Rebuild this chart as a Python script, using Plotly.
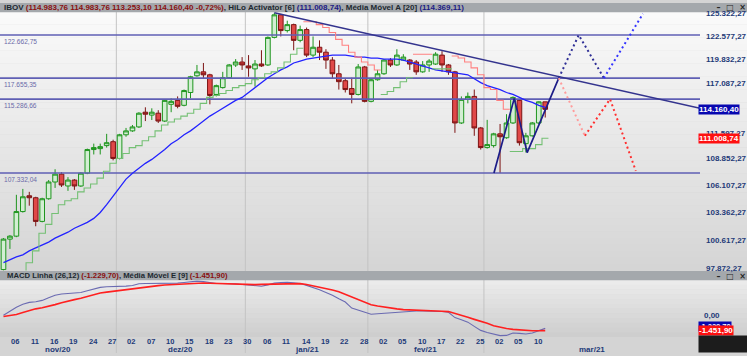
import math
import plotly.graph_objects as go

# ---------------- data ----------------
dates = [
    "2020-11-05", "2020-11-06", "2020-11-09", "2020-11-10", "2020-11-11", "2020-11-12", "2020-11-13",
    "2020-11-16", "2020-11-17", "2020-11-18", "2020-11-19", "2020-11-20", "2020-11-23", "2020-11-24",
    "2020-11-25", "2020-11-26", "2020-11-27", "2020-11-30",
    "2020-12-01", "2020-12-02", "2020-12-03", "2020-12-04", "2020-12-07", "2020-12-08", "2020-12-09",
    "2020-12-10", "2020-12-11", "2020-12-14", "2020-12-15", "2020-12-16", "2020-12-17", "2020-12-18",
    "2020-12-21", "2020-12-22", "2020-12-23", "2020-12-28", "2020-12-29", "2020-12-30",
    "2021-01-04", "2021-01-05", "2021-01-06", "2021-01-07", "2021-01-08", "2021-01-11", "2021-01-12",
    "2021-01-13", "2021-01-14", "2021-01-15", "2021-01-18", "2021-01-19", "2021-01-20", "2021-01-21",
    "2021-01-22", "2021-01-26", "2021-01-27", "2021-01-28", "2021-01-29",
    "2021-02-01", "2021-02-02", "2021-02-03", "2021-02-04", "2021-02-05", "2021-02-08", "2021-02-09",
    "2021-02-10", "2021-02-11", "2021-02-12", "2021-02-17", "2021-02-18", "2021-02-19", "2021-02-22",
    "2021-02-23", "2021-02-24", "2021-02-25", "2021-02-26",
    "2021-03-01", "2021-03-02", "2021-03-03", "2021-03-04", "2021-03-05", "2021-03-08", "2021-03-09",
    "2021-03-10", "2021-03-11", "2021-03-12",
]

open_ = [
    97770, 100690, 100980, 103410, 105000, 104800, 102430, 104700, 106410, 107220,
    106000, 106610, 106000, 107320, 109800, 109900, 110220, 110640, 108860, 111380,
    111800, 112230, 113840, 113520, 113730, 112870, 114710, 115150, 114600, 116030,
    117920, 118370, 118030, 115810, 116580, 117700, 119160, 119500, 119050, 118710,
    119270, 119160, 122380, 125080, 123190, 123900, 122030, 123310, 120300, 121220,
    120640, 119730, 118150, 117360, 116470, 115810, 118930, 115040, 117470, 118150,
    119730, 119160, 119730, 119730, 119500, 118370, 119160, 119270, 120300, 119160,
    118370, 112660, 115260, 115590, 112120, 110010, 110220, 111480, 111060, 112660,
    115150, 110430, 111270, 112660, 114983.76,
]
high = [
    100790, 101080, 105100, 105700, 105400, 104900, 104800, 106610, 107730, 107420,
    106910, 106710, 107420, 109900, 110430, 110430, 111480, 110850, 111480, 112120,
    112440, 113840, 114380, 114270, 114060, 115260, 115370, 115590, 116360, 117920,
    119160, 119390, 118150, 116920, 118370, 119270, 119840, 120070, 120300, 119730,
    120870, 122490, 125323, 125200, 124370, 124020, 123780, 123550, 122490, 122030,
    120990, 120070, 119160, 117580, 117700, 119270, 119050, 117580, 118590, 119840,
    119960, 120990, 120410, 119840, 119730, 119610, 119840, 120640, 120760, 119270,
    118480, 115590, 116030, 116360, 112230, 113000, 111590, 112550, 113620, 115590,
    115260, 111590, 112760, 115040, 114983.76,
]
low = [
    97670, 99740, 100880, 103310, 104000, 101950, 102340, 104600, 105800, 105900,
    105500, 105600, 105900, 107220, 109280, 109280, 110010, 108660, 108760, 111170,
    111700, 112120, 112870, 112980, 112660, 112760, 113840, 114270, 114490, 115370,
    117810, 117580, 114710, 115590, 116470, 117580, 118930, 118590, 117810, 116690,
    118930, 119050, 122260, 122490, 122960, 120870, 121800, 120070, 120070, 119730,
    118710, 117580, 116360, 116030, 114820, 115700, 114930, 114930, 117360, 118030,
    118930, 119050, 119610, 118590, 118030, 118260, 118370, 119160, 118370, 118030,
    111590, 112550, 114820, 111270, 109800, 109900, 110010, 107332.04, 110950, 112550,
    110220, 109490, 111170, 112550, 113253.10,
]
close = [
    100690, 100980, 103410, 104900, 104800, 102430, 104700, 106410, 107220, 106100,
    106610, 106000, 107320, 109800, 110010, 110110, 110530, 108860, 111380, 111800,
    112230, 113730, 113620, 113840, 112870, 115150, 115040, 114490, 116250, 117810,
    118370, 118030, 115700, 116800, 117700, 119160, 119500, 119160, 118820, 119270,
    119050, 122380, 125080, 123190, 123900, 122030, 123310, 120300, 121220, 120640,
    119730, 118150, 117250, 116360, 115810, 118930, 115040, 117470, 118150, 119730,
    119160, 120300, 120070, 119270, 118370, 119160, 119610, 120410, 119160, 118370,
    112660, 115260, 115590, 112120, 110010, 110330, 111480, 111170, 112660, 115480,
    110530, 111270, 112660, 114983.76, 114160.40,
]

ma20 = [
    98421, 98701, 98984, 99173, 99550, 99834, 100120, 100403, 100788, 101077,
    101366, 101752, 102044, 102335, 102725, 103314, 104103, 104998, 105901, 106709,
    107320, 107832, 108346, 108759, 109278, 109799, 110428, 110849, 111377, 111801,
    112335, 112870, 113410, 113841, 114276, 114711, 115148, 115478, 116028, 116582,
    117137, 117696, 118145, 118595, 118935, 119387, 119614, 119843, 119957, 120071,
    120186, 120300, 120300, 120300, 120186, 120071, 120071, 119957, 119957, 119843,
    119843, 119843, 119729, 119500, 119274, 119048, 118821, 118595, 118482, 118369,
    118257, 118145, 118033, 117584, 117137, 116804, 116582, 116360, 116028, 115808,
    115478, 115148, 114929, 114602, 114369.11,
]

hilo = [
    None, None, None, 97200, 98420, 99550, 101270, 102140, 103220, 104100,
    104500, 104700, 105400, 105800, 106200, 106810, 107520, 108350, 108860, 109380,
    110010, 110220, 110740, 111170, 111800, 112440, 112760, 113090, 113410, 113730,
    114170, 114820, 115480, 115700, 115920, 116250, 116580, 116800, 117030, 117470,
    117700, 118150, 118370, 118820, 119500, 120410, 121100, 124250, 124250, 123900,
    123550, 122960, 122150, 121450, 120640, 120070, 119500, 119160, 118590, 115810,
    116140, 116580, 117250, 117700, 120410, 120410, 120410, 118710, 118710, 118710,
    120190, 119960, 119500, 118820, 118030, 116580, 116360, 115150, 114170, 109590,
    109590, 109900, 109900, 110320, 111008.74,
]
# G = HiLo below price (buy, green), R = HiLo above price (sell, red)
hilo_side = "G" * 47 + "R" * 12 + "G" * 5 + "R" * 3 + "G" * 3 + "R" * 9 + "G" * 6

macd_line = [
    29, 447, 808, 1093, 1283, 1349, 1473, 1729, 1967, 2090,
    2157, 2195, 2233, 2404, 2565, 2727, 2793, 2812, 2784, 2850,
    2917, 3078, 3107, 3107, 3097, 3078, 3097, 3145, 3202, 3278,
    3335, 3287, 3183, 3107, 3107, 3107, 3069, 3012, 2955, 2898,
    2841, 2974, 3145, 3192, 3221, 3164, 3097, 2926, 2727, 2508,
    2242, 1976, 1625, 1311, 732, 523, 285, 133, 190, 238,
    285, 342, 390, 447, 447, 447, 447, 428, 399, 323,
    -190, -399, -627, -1036, -1425, -1625, -1796, -1929, -1910, -1672,
    -1710, -1777, -1682, -1463, -1229.70,
]
macd_signal = [
    -76, 19, 114, 295, 494, 656, 770, 893, 1064, 1245,
    1416, 1549, 1672, 1834, 2014, 2185, 2271, 2356, 2432, 2508,
    2584, 2679, 2765, 2841, 2898, 2955, 2993, 3021, 3050, 3097,
    3145, 3154, 3135, 3107, 3097, 3078, 3059, 3021, 2983, 2993,
    3021, 3040, 3069, 3097, 3107, 3107, 3097, 3002, 2888, 2774,
    2641, 2480, 2299, 2062, 1815, 1568, 1321, 1055, 931, 817,
    722, 656, 580, 542, 513, 494, 475, 447, 418, 390,
    228, 19, -162, -361, -532, -741, -969, -1131, -1245, -1330,
    -1387, -1444, -1454, -1454, -1451.90,
]

levels = [122662.75, 117655.35, 115286.66, 107332.04]
price_ticks = [125322.27, 122577.27, 119832.27, 117087.27, 111597.27,
               108852.27, 106107.27, 103362.27, 100617.27, 97872.27]
month_names = ["nov/20", "dez/20", "jan/21", "fev/21", "mar/21"]

# drawn studies (positions in trading-day units, price levels)
trend_x = [42.0, 108.0]
trend_y = [125323.0, 114276.0]
wave_x = [76.05, 79.2, 81.2, 86.1]
wave_y = [107332.04, 115370.0, 109480.0, 117655.35]
proj_up_x = [86.1, 89.2, 93.1, 99.15]
proj_up_y = [117655.35, 122662.75, 117655.35, 125200.0]
proj_dn_x = [86.1, 90.15, 94.05, 98.05]
proj_dn_y = [117655.35, 111270.0, 115286.66, 107560.0]

# ---------------- helpers ----------------
W, H = 747, 356
FONT = "Liberation Sans"
NAVY_TXT = "#1e3a78"


def br(v, nd=2):
    s = f"{v:,.{nd}f}"
    return s.replace(",", "X").replace(".", ",").replace("X", ".")


def py(px):
    return (H - px) / H


def pxx(px):
    return px / W


xs = list(range(len(dates)))
X_MIN, X_MAX = -0.54, 108.0
PLOT_R = 700 / W

K = 0.0009508 / math.log(10)
y_top = math.log10(125322.27) + (10 - 9) * K
y_bot = math.log10(125322.27) - (272 - 10) * K


def step_xy(side):
    sx, sy = [], []
    for i, v in enumerate(hilo):
        if v is None or hilo_side[i] != side:
            continue
        sx.append(i - 0.5)
        sy.append(v)
        nxt = i + 1 < len(hilo) and hilo[i + 1] is not None and hilo_side[i + 1] == side
        if not nxt:
            sx += [i + 0.5, None]
            sy += [v, None]
    return sx, sy


fig = go.Figure()

# horizontal levels
for lv in levels:
    fig.add_trace(go.Scatter(x=[X_MIN, X_MAX], y=[lv, lv], mode="lines",
                             line=dict(color="#5f5fb4", width=1.6), hoverinfo="skip"))

# moving average
fig.add_trace(go.Scatter(x=xs, y=ma20, mode="lines", line=dict(color="#2323ff", width=1.3)))

# HiLo activator
gx, gy = step_xy("G")
rx, ry = step_xy("R")
fig.add_trace(go.Scatter(x=gx, y=gy, mode="lines", line=dict(color="#74c074", width=1.1, shape="hv")))
fig.add_trace(go.Scatter(x=rx, y=ry, mode="lines", line=dict(color="#ff8080", width=1.1, shape="hv")))

# candles
fig.add_trace(go.Candlestick(
    x=xs, open=open_, high=high, low=low, close=close,
    increasing=dict(line=dict(color="#1e951e", width=1), fillcolor="#d3eed3"),
    decreasing=dict(line=dict(color="#7d1414", width=1), fillcolor="#e04848"),
    whiskerwidth=0,
))

# trend line, wave and projections
fig.add_trace(go.Scatter(x=trend_x, y=trend_y, mode="lines", line=dict(color="#34348e", width=1.5)))
fig.add_trace(go.Scatter(x=wave_x, y=wave_y, mode="lines", line=dict(color="#1d1d88", width=1.7)))
fig.add_trace(go.Scatter(x=proj_up_x[:3], y=proj_up_y[:3], mode="lines",
                         line=dict(color="#2e2e96", width=2, dash="2px,3px")))
fig.add_trace(go.Scatter(x=proj_up_x[2:], y=proj_up_y[2:], mode="lines",
                         line=dict(color="#3434ff", width=2, dash="2px,3px")))
fig.add_trace(go.Scatter(x=proj_dn_x[:2], y=proj_dn_y[:2], mode="lines",
                         line=dict(color="#ff9c9c", width=2, dash="2px,3px")))
fig.add_trace(go.Scatter(x=proj_dn_x[1:], y=proj_dn_y[1:], mode="lines",
                         line=dict(color="#ff3030", width=2, dash="2px,3px")))

# MACD panel
fig.add_trace(go.Scatter(x=xs, y=macd_line, mode="lines", yaxis="y2",
                         line=dict(color="#6b6bb2", width=1.1)))
fig.add_trace(go.Scatter(x=xs, y=macd_signal, mode="lines", yaxis="y2",
                         line=dict(color="#ff2020", width=1.6)))

# ---------------- decoration shapes ----------------
shapes = []


def rect(x0, x1, y0, y1, color):
    return dict(type="rect", xref="paper", yref="paper", x0=pxx(x0), x1=pxx(x1),
                y0=py(y1), y1=py(y0), line=dict(width=0), fillcolor=color, layer="below")


def band(y0px, y1px, c0, c1, steps):
    out = []
    for k in range(steps):
        a = y0px + (y1px - y0px) * k / steps
        b = y0px + (y1px - y0px) * (k + 1) / steps
        t = (k + 0.5) / steps
        col = tuple(int(round(c0[j] + (c1[j] - c0[j]) * t)) for j in range(3))
        out.append(rect(0, W, a - 0.2, b, "rgb(%d,%d,%d)" % col))
    return out


shapes += band(9, 272, (250, 250, 250), (213, 213, 213), 40)
shapes += band(282, 340, (236, 236, 236), (205, 205, 205), 12)
shapes.append(rect(0, W, 340, H, "#d4d4d4"))

# month separators
month_starts = [i for i in range(1, len(dates)) if dates[i][5:7] != dates[i - 1][5:7]]
for i in month_starts:
    shapes.append(dict(type="line", xref="x", yref="paper", x0=i - 0.5, x1=i - 0.5,
                       y0=0, y1=py(9), line=dict(color="#c3c3c3", width=1), layer="below"))

# title bars
shapes.append(rect(0, W, 0, 9.5, "#a4a8ac"))
shapes.append(rect(0, W, 272.5, 282, "#a4a8ac"))

# ---------------- annotations ----------------
ann = []
o, h, l, c = open_[-1], high[-1], low[-1], close[-1]
pct = (c / o - 1) * 100
header = ("<b><span style='color:#202830'>IBOV </span>"
          f"<span style='color:#8a1010'>({br(o)} {br(h)} {br(l)} {br(c)} {br(pct)}%)</span>"
          "<span style='color:#202830'>, HiLo Activator [6] </span>"
          f"<span style='color:#1c1c86'>({br(hilo[-1])})</span>"
          "<span style='color:#202830'>, Média Móvel A [20] </span>"
          f"<span style='color:#1c1c86'>({br(ma20[-1])})</span></b>")
ann.append(dict(text=header, xref="paper", yref="paper", x=2 / W, y=py(4.8), xanchor="left",
                yanchor="middle", showarrow=False, font=dict(family=FONT, size=8)))
macd_title = ("<b><span style='color:#202830'>MACD Linha (26,12) </span>"
              f"<span style='color:#8a1010'>({br(macd_line[-1])})</span>"
              "<span style='color:#202830'>, Média Móvel E [9] </span>"
              f"<span style='color:#8a1010'>({br(macd_signal[-1])})</span></b>")
ann.append(dict(text=macd_title, xref="paper", yref="paper", x=5 / W, y=py(277.5), xanchor="left",
                yanchor="middle", showarrow=False, font=dict(family=FONT, size=7.7)))

# window buttons on both title bars (right-aligned inside a box anchored at the plot edge)
for yy in (5.0, 277.8):
    ann.append(dict(text="<b>–  □  ×</b>", xref="paper", yref="paper", x=698 / W, y=py(yy),
                    xanchor="left", yanchor="middle", width=46, height=9, align="right",
                    showarrow=False, font=dict(family="DejaVu Sans", size=8, color="#262626")))

# level labels on the left
for lv in levels:
    ann.append(dict(text=br(lv), xref="paper", yref="y", x=2 / W, y=math.log10(lv), xanchor="left",
                    yanchor="top", yshift=-0.5, showarrow=False,
                    font=dict(family=FONT, size=6.6, color="#6a6aa8")))

# last-value markers
ann.append(dict(text="<b>" + br(c) + "</b>", xref="paper", yref="y", x=698 / W, y=math.log10(c),
                xanchor="left", yanchor="middle", showarrow=False, bgcolor="#0707b0",
                borderpad=0, font=dict(family=FONT, size=8, color="white")))
ann.append(dict(text="<b>" + br(hilo[-1]) + "</b>", xref="paper", yref="y", x=698 / W,
                y=math.log10(hilo[-1]), xanchor="left", yanchor="middle", showarrow=False,
                bgcolor="#ff1010", borderpad=0, font=dict(family=FONT, size=8, color="white")))
ann.append(dict(text="<b>" + br(macd_line[-1]) + "</b>", xref="paper", yref="y2", x=698 / W,
                y=macd_line[-1], yshift=2, xanchor="left", yanchor="middle", showarrow=False,
                bgcolor="#0707b0", borderpad=0, font=dict(family=FONT, size=7.5, color="white")))
ann.append(dict(text="<b>" + br(macd_signal[-1]) + "</b>", xref="paper", yref="y2", x=698 / W,
                y=macd_signal[-1], xanchor="left", yanchor="middle", showarrow=False, bgcolor="#ff1010",
                borderpad=0, font=dict(family=FONT, size=8, color="white")))

# scroll tab and dark corner as filled boxes anchored at the plot edge
ann.append(dict(text=" ", xref="paper", yref="paper", x=698 / W, y=py(123), xanchor="left",
                yanchor="top", width=49, height=27, align="right", showarrow=False,
                bgcolor="rgba(0,0,0,0)", borderpad=0, font=dict(size=1)))
ann.append(dict(text=" ", xref="paper", yref="paper", x=698 / W, y=0, xanchor="left",
                yanchor="bottom", width=49, height=16, showarrow=False,
                bgcolor="#1c1c1c", borderpad=0, font=dict(size=1)))

# day labels every third session (left-aligned at the candle) and month labels
for i in range(1, len(dates), 3):
    ann.append(dict(text="<b>" + dates[i][8:10] + "</b>", xref="x", yref="paper", x=i - 0.1,
                    y=py(344), xanchor="left", yanchor="middle", showarrow=False,
                    font=dict(family=FONT, size=7.5, color=NAVY_TXT)))
bounds = [X_MIN] + [i - 0.5 for i in month_starts] + [X_MAX]
for k, name in enumerate(month_names):
    ann.append(dict(text="<b>" + name + "</b>", xref="x", yref="paper", x=(bounds[k] + bounds[k + 1]) / 2,
                    y=py(352.3), xanchor="center", yanchor="middle", showarrow=False,
                    font=dict(family=FONT, size=8, color=NAVY_TXT)))

fig.update_layout(
    width=W, height=H, margin=dict(l=0, r=0, t=0, b=0),
    paper_bgcolor="#d4d4d4", plot_bgcolor="rgba(0,0,0,0)",
    showlegend=False, boxgap=0.2, boxgroupgap=0.1,
    font=dict(family=FONT),
    shapes=shapes, annotations=ann,
    xaxis=dict(domain=[0, PLOT_R], range=[X_MIN, X_MAX], anchor="y2",
               rangeslider=dict(visible=False), showgrid=False, zeroline=False, showline=False,
               showticklabels=False, ticks=""),
    yaxis=dict(domain=[py(272), py(9)], type="log", range=[y_bot, y_top], side="right",
               anchor="x", showgrid=False, zeroline=False, showline=False,
               tickmode="array", tickvals=price_ticks,
               ticktext=["<b>" + br(v) + "</b>" for v in price_ticks], ticks="",
               tickfont=dict(family=FONT, size=8, color=NAVY_TXT), ticklabelstandoff=5),
    yaxis2=dict(domain=[py(340), py(282)], range=[-2090, 3420], side="right", anchor="x",
                showgrid=False, zeroline=False, showline=False,
                tickmode="array", tickvals=[0], ticktext=["<b>0,00</b>"], ticks="",
                tickfont=dict(family=FONT, size=8, color=NAVY_TXT), ticklabelstandoff=3),
)

fig.write_html("out.html", config={"displayModeBar": False},
               post_script="document.body.style.margin='0';")
